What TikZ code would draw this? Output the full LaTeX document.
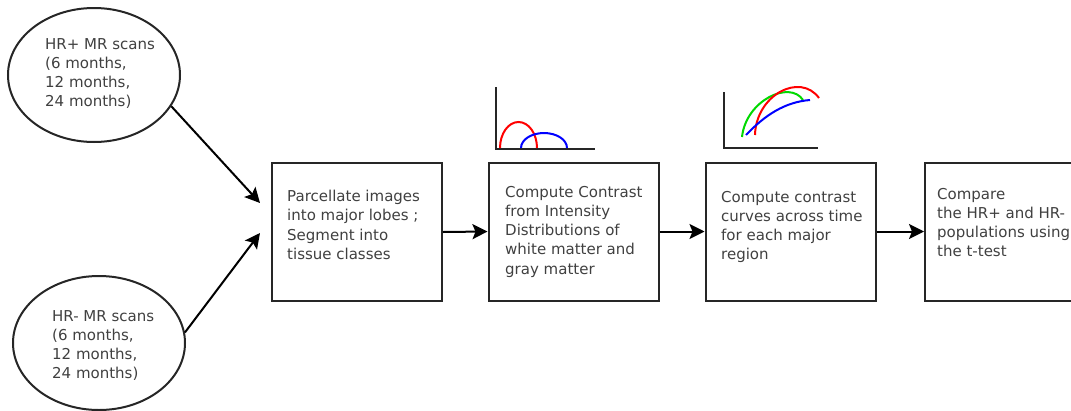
\documentclass[tikz,border=0pt]{standalone}
\usepackage{fontspec}
\setmainfont{DejaVu Sans}
\usetikzlibrary{shapes.geometric,arrows.meta}
\tikzset{
  blk/.style={draw=black!85,line width=2pt,minimum width=#1,minimum height=138pt,inner sep=0pt},
  blk/.default=170pt,
  oval/.style={draw=black!85,line width=2pt,ellipse,minimum width=172pt,minimum height=134pt,inner sep=0pt},
  txt/.style={anchor=north west,inner sep=0pt,align=left,text=black!75,font=\fontsize{15}{19.2}\selectfont},
  arr/.style={line width=2pt,-{Stealth[length=15pt,width=15pt,inset=3pt]}},
  axis/.style={line width=2pt,black!85},
  crv/.style={line width=2pt}
}
\begin{document}
\begin{tikzpicture}[x=1pt,y=-1pt]
\useasboundingbox (0,0) rectangle (1071,410);
% ellipses
\node[oval] (e1) at (94,75) {};
\node[oval] (e2) at (99,343) {};
\node[txt] (t1) at (45,38) {HR+ MR scans\\(6 months,\\12 months,\\24 months)};
\node[txt] (t2) at (52,310) {HR- MR scans\\(6 months,\\12 months,\\24 months)};
% boxes
\node[blk] (b1) at (357,232) {};
\node[blk] (b2) at (573.5,231.5) {};
\node[blk] (b3) at (790.5,231.5) {};
\node[blk] (b4) at (1010,231.5) {};
\node[txt] (tb1) at (287,190) {Parcellate images\\into major lobes ;\\Segment into\\tissue classes};
\node[txt] (tb2) at (505,186) {Compute Contrast\\from Intensity\\Distributions of\\white matter and\\gray matter};
\node[txt] (tb3) at (721,191) {Compute contrast\\curves across time\\for each major\\region};
\node[txt] (tb4) at (937,188) {Compare\\the HR+ and HR-\\populations using\\the t-test};
% connectors
\coordinate (in1) at (260,203);
\coordinate (in2) at (260,233);
\draw[arr] (e1.-22) -- (in1);
\draw[arr] (e2.7.5) -- (in2);
\draw[arr] (b1.east) -- (b2.west);
\draw[arr] (b2.east) -- (b3.west);
\draw[arr] (b3.east) -- (b4.west);
% chart 1
\draw[axis] (496,87) -- (496,149) -- (595,149);
\draw[crv,red] (500,148) arc[start angle=180,end angle=360,x radius=18.5,y radius=26];
\draw[crv,blue] (521,148) arc[start angle=180,end angle=360,x radius=23,y radius=15];
% chart 2
\draw[axis] (724,92) -- (724,148) -- (818,148);
\draw[crv,green!85!black] (742,137) .. controls (746,100) and (790,80) .. (803,100);
\draw[crv,red] (755,135) .. controls (756,95) and (800,72) .. (819,98);
\draw[crv,blue] (746,135) .. controls (765,115) and (785,102) .. (810,100);
\end{tikzpicture}
\end{document}
